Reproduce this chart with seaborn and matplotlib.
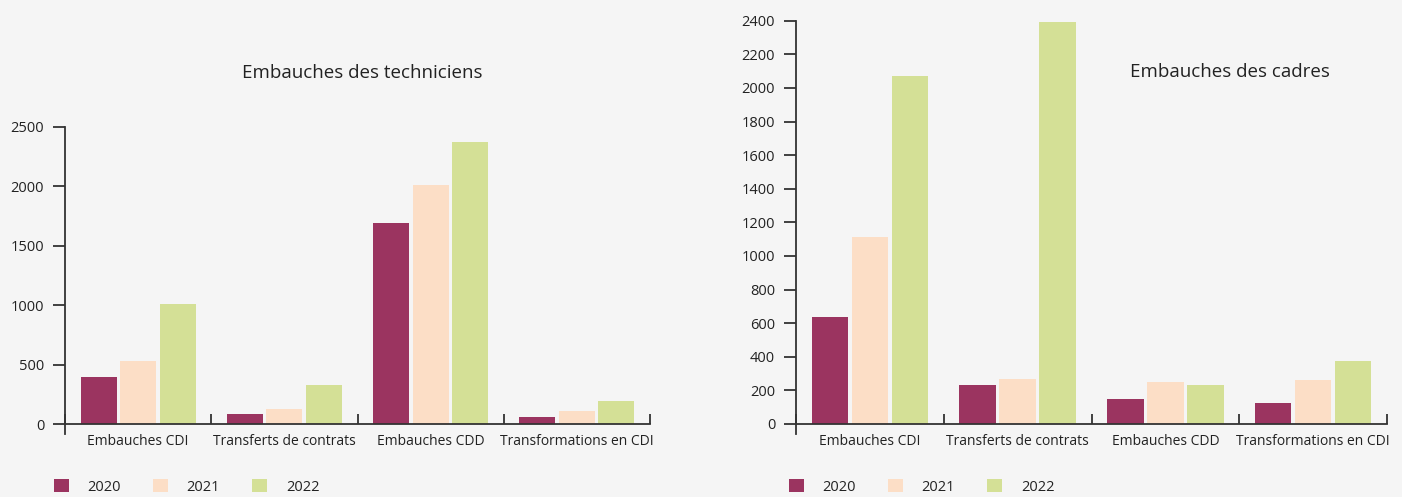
import matplotlib
matplotlib.use("Agg")
import matplotlib.pyplot as plt
import seaborn as sns
import pandas as pd
from matplotlib.ticker import FixedLocator

categories = ["Embauches CDI", "Transferts de contrats", "Embauches CDD", "Transformations en CDI"]
years = ["2020", "2021", "2022"]

tech_2020 = [396, 84, 1692, 59]
tech_2021 = [530, 126, 2012, 110]
tech_2022 = [1010, 328, 2374, 194]

cadres_2020 = [637, 232, 149, 125]
cadres_2021 = [1113, 268, 250, 262]
cadres_2022 = [2071, 2390, 232, 375]

colors = ["#9b3460", "#fcdec6", "#d4e096"]
bg = "#f5f5f5"

def long_df(a, b, c):
    rows = []
    for yr, vals in zip(years, [a, b, c]):
        for cat, v in zip(categories, vals):
            rows.append({"cat": cat, "year": yr, "val": v})
    return pd.DataFrame(rows)

sns.set_theme(style="white")
plt.rcParams["font.family"] = ["Open Sans", "DejaVu Sans"]
plt.rcParams["text.color"] = "#222222"

fig = plt.figure(figsize=(14.02, 4.97), dpi=100, facecolor=bg)
W, H = 1402, 497
ax1 = fig.add_axes([65 / W, (H - 434) / H, 585 / W, (434 - 127) / H])
ax2 = fig.add_axes([796 / W, (H - 434) / H, 591 / W, (434 - 20.7) / H])

def draw(ax, df, ymax, step, ybot, legend_x):
    ax.set_facecolor(bg)
    sns.barplot(data=df, x="cat", y="val", hue="year", palette=colors,
                width=0.81, gap=0.085, saturation=1, linewidth=0,
                ax=ax, legend=True)
    ax.set_xlim(-0.5, 3.5)
    ax.set_ylim(ybot, ymax)
    ax.set_yticks(list(range(0, ymax + 1, step)))
    ax.set_xlabel("")
    ax.set_ylabel("")
    for s in ["top", "right"]:
        ax.spines[s].set_visible(False)
    ax.spines["bottom"].set_position(("data", 0))
    for s in ["left", "bottom"]:
        ax.spines[s].set_color("#333333")
        ax.spines[s].set_linewidth(1.3)
    ax.tick_params(axis="y", direction="out", length=9, width=1.3, color="#333333",
                   labelsize=10.5, labelcolor="#222222", pad=6, left=True)
    ax.tick_params(axis="x", which="major", length=0, labelsize=10,
                   labelcolor="#222222", pad=7)
    ax.xaxis.set_minor_locator(FixedLocator([-0.5, 0.5, 1.5, 2.5, 3.5]))
    ax.tick_params(axis="x", which="minor", direction="in", length=7, width=1.3,
                   color="#333333", bottom=True)
    sns.move_legend(ax, loc="center left",
                    bbox_to_anchor=(legend_x / W, 10 / H),
                    bbox_transform=fig.transFigure,
                    ncol=3, frameon=False, title=None, fontsize=10.5,
                    handlelength=1.0, handleheight=1.0, handletextpad=1.3,
                    columnspacing=2.2, borderpad=0, borderaxespad=0)
    for h in ax.get_legend().legend_handles:
        h.set_linewidth(0)

draw(ax1, long_df(tech_2020, tech_2021, tech_2022), 2500, 500, -84, 54)
draw(ax2, long_df(cadres_2020, cadres_2021, cadres_2022), 2400, 200, -60, 789)

fig.text(362 / W, (H - 73) / H, "Embauches des techniciens", ha="center", va="center", fontsize=13.5)
fig.text(1230 / W, (H - 72) / H, "Embauches des cadres", ha="center", va="center", fontsize=13.5)

fig.savefig("out.png", dpi=100, facecolor=bg)
